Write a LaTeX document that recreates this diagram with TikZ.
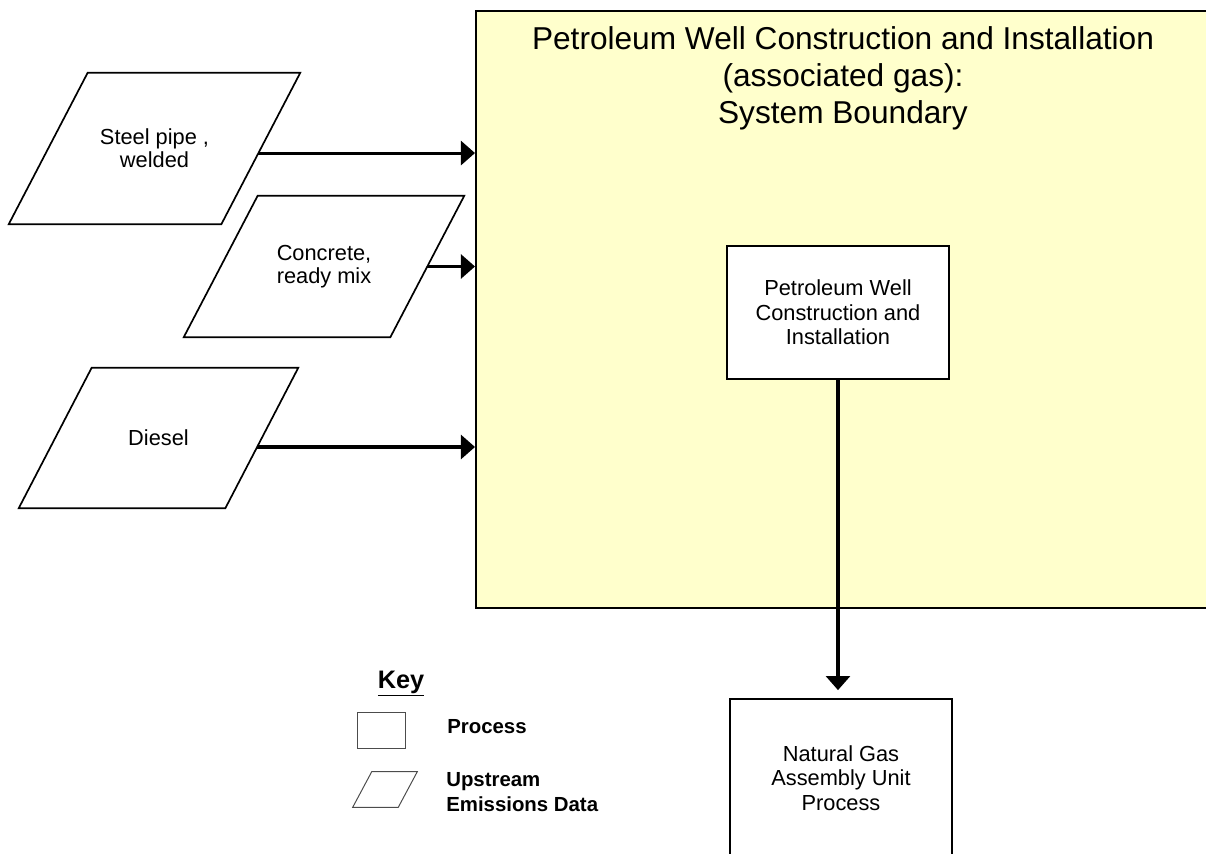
\documentclass[tikz,border=0pt]{standalone}
\usepackage{fontspec}
\setmainfont{Liberation Sans}
\usetikzlibrary{arrows.meta,calc}
\definecolor{boundaryyellow}{HTML}{FFFFCC}

\begin{document}
\begin{tikzpicture}[x=0.025cm, y=-0.025cm,
    process/.style={draw, line width=1.2pt, fill=white, align=center, inner sep=0pt,
        minimum width=5.55cm, font=\fontsize{15.5pt}{17.4pt}\selectfont},
    upstream/.style={align=center, inner sep=0pt, font=\fontsize{15.5pt}{16.4pt}\selectfont},
    upstreamline/.style={line width=1.2pt, line join=miter},
    flow/.style={line width=2.2pt, -{Triangle[length=10pt, width=17pt]}},
    keytext/.style={inner sep=0pt, align=left, font=\bfseries\fontsize{14.5pt}{17.6pt}\selectfont},
    keyline/.style={draw, gray!60!black, line width=0.7pt},
]
    \useasboundingbox (0,0) rectangle (1206,854);
    \clip (0,0) rectangle (1206,854);

    % System boundary (yellow, runs off the right edge)
    \node[draw, line width=1.2pt, fill=boundaryyellow, anchor=north west, inner sep=0pt,
        minimum width=19.125cm, minimum height=14.925cm] (boundary) at (475,10) {};
    \node[anchor=north, align=center, inner sep=0pt,
        font=\fontsize{22.5pt}{26.3pt}\selectfont] (title) at (843,26)
        {Petroleum Well Construction and Installation\\(associated gas):\\System Boundary};

    % Upstream emissions data (text, then slanted outline)
    \node[upstream, minimum width=5.3cm, minimum height=3.775cm] (steel) at (154.5,148.5)
        {Steel pipe ,\\welded};
    \node[upstream, minimum width=5.15cm, minimum height=3.525cm] (concrete) at (324,266.5)
        {Concrete,\\ready mix};
    \node[upstream, minimum width=5.15cm, minimum height=3.5cm] (diesel) at (158.5,438)
        {Diesel};
    \foreach \n/\s in {steel/39.5, concrete/37, diesel/36.5}
        \draw[upstreamline] ($(\n.south west)+(-\s,0)$) coordinate (\n-bl)
            -- ($(\n.south east)+(-\s,0)$) coordinate (\n-br)
            -- ($(\n.north east)+(\s,0)$) coordinate (\n-tr)
            -- ($(\n.north west)+(\s,0)$) coordinate (\n-tl) -- cycle;

    % Processes
    \node[process, minimum height=3.325cm] (well) at (838,312.5)
        {Petroleum Well\\Construction and\\Installation};
    \node[process, minimum height=3.95cm] (assembly) at (841,778)
        {Natural Gas\\Assembly Unit\\Process};

    % Flows
    \draw[flow] ($(steel-br)!0.47!(steel-tr)$) coordinate (s1) -- (s1 -| boundary.west);
    \draw[flow] ($(concrete-br)!0.5!(concrete-tr)$) coordinate (c1) -- (c1 -| boundary.west);
    \draw[flow] ($(diesel-br)!0.436!(diesel-tr)$) coordinate (d1) -- (d1 -| boundary.west);
    \draw[flow, shorten >=5.7pt] (well.south) -- (well.south |- assembly.north);

    % Key
    \node[anchor=base, font=\bfseries\fontsize{18pt}{20pt}\selectfont] (key) at (401,688)
        {\underline{Key}};
    \node[keyline, minimum width=1.2cm, minimum height=0.9cm, inner sep=0pt]
        (keyprocess) at (381,730) {};
    \node[keytext, anchor=base west] (keyprocesstext) at (447,733) {Process};
    \node[inner sep=0pt, minimum width=1.125cm, minimum height=0.875cm]
        (keyupstream) at (385,789.5) {};
    \draw[keyline] ($(keyupstream.south west)+(-9.5,0)$) -- ($(keyupstream.south east)+(-9.5,0)$)
        -- ($(keyupstream.north east)+(9.5,0)$) -- ($(keyupstream.north west)+(9.5,0)$) -- cycle;
    \node[keytext, anchor=west] (keyupstreamtext) at (446,792) {Upstream\\Emissions Data};
\end{tikzpicture}
\end{document}
